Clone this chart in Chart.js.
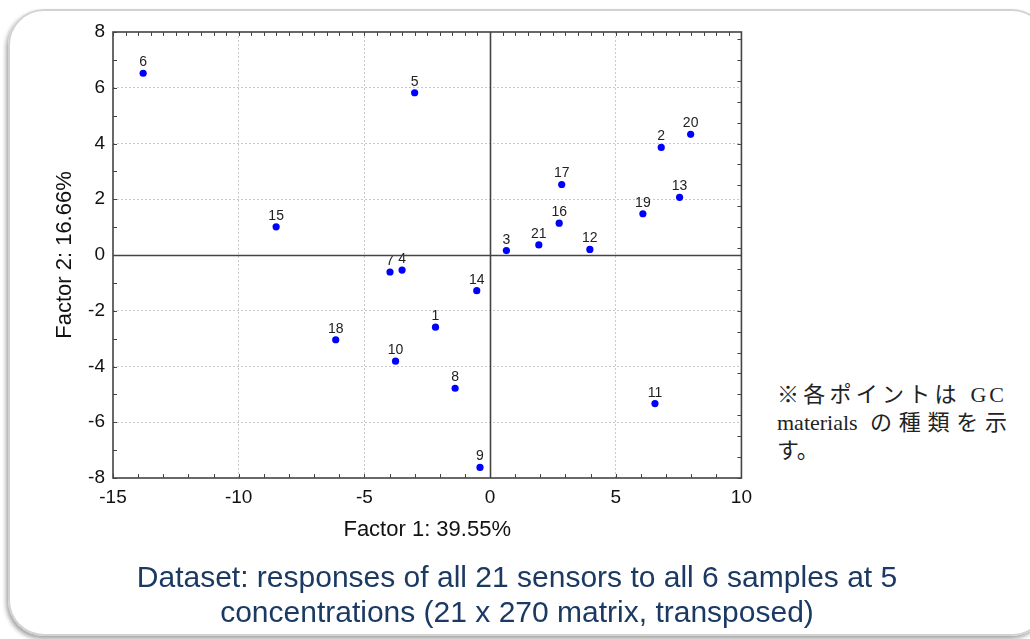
<!DOCTYPE html>
<html>
<head>
<meta charset="utf-8">
<title>Factor plot</title>
<script src="https://cdn.jsdelivr.net/npm/chart.js@4.4.0/dist/chart.umd.min.js"></script>
<style>
  html, body { margin: 0; padding: 0; background: #fff; }
  body { width: 1030px; height: 639px; position: relative; overflow: hidden; font-family: "Liberation Sans", Arial, sans-serif; }
  #frame { position: absolute; left: 8px; top: 9px; width: 1040px; height: 627px; box-sizing: border-box;
           border: 2px solid #d2d2d2; border-radius: 36px; box-shadow: -2px 3px 4px rgba(0,0,0,0.35); }
  #wrap { position: absolute; left: 0; top: 0; width: 760px; height: 560px; }
  #note { position: absolute; left: 777px; top: 381px; width: 230px; color: #222;
          font-family: "Liberation Serif", "Noto Sans CJK JP", serif; font-size: 22px; line-height: 28px; }
  #note .j { text-align: justify; text-align-last: justify; }
  #caption { position: absolute; left: 0; width: 1034px; top: 559px; text-align: center; color: #1b3a63;
             font-size: 30px; line-height: 35px; }
</style>
</head>
<body>
<div id="frame"></div>
<div id="wrap"><canvas id="chart" width="760" height="560"></canvas></div>
<div id="note">
  <div class="j">※各ポイントは <span style="letter-spacing:3px">GC</span></div>
  <div class="j">materials の種類を示</div>
  <div>す。</div>
</div>
<div id="caption">Dataset: responses of all 21 sensors to all 6 samples at 5<br>concentrations (21 x 270 matrix, transposed)</div>
<script>
// sensor numbers and their scores on the first two factors
var sensorIds = ['1','2','3','4','5','6','7','8','9','10','11','12','13','14','15','16','17','18','19','20','21'];
var factor1 = [-2.17, 6.81, 0.65, -3.50, -3.00, -13.80, -3.98, -1.39, -0.40, -3.76, 6.56, 3.97, 7.54, -0.53, -8.51, 2.75, 2.85, -6.14, 6.08, 7.98, 1.94];
var factor2 = [-2.59, 3.86, 0.16, -0.54, 5.82, 6.52, -0.61, -4.78, -7.62, -3.81, -5.33, 0.20, 2.07, -1.28, 1.01, 1.14, 2.53, -3.04, 1.48, 4.33, 0.36];

var xTicks = [-15, -10, -5, 0, 5, 10];
var yTicks = [-8, -6, -4, -2, 0, 2, 4, 6, 8];

var points = [];
for (var i = 0; i < sensorIds.length; i++) {
  points.push({ x: factor1[i], y: factor2[i], id: sensorIds[i] });
}

// frame, zero lines and small inside ticks
var framePlugin = {
  id: 'framePlugin',
  afterDraw: function(chart) {
    var ctx = chart.ctx;
    var a = chart.chartArea;
    var xs = chart.scales.x, ys = chart.scales.y;
    ctx.save();
    ctx.strokeStyle = '#444';
    ctx.lineWidth = 1.6;
    // zero lines
    var x0 = Math.round(xs.getPixelForValue(0)) + 0.5;
    var y0 = Math.round(ys.getPixelForValue(0)) + 0.5;
    ctx.beginPath();
    ctx.moveTo(x0, a.top); ctx.lineTo(x0, a.bottom);
    ctx.moveTo(a.left, y0); ctx.lineTo(a.right, y0);
    ctx.stroke();
    ctx.strokeRect(a.left, a.top, a.right - a.left, a.bottom - a.top);
    // minor ticks
    ctx.lineWidth = 1;
    ctx.beginPath();
    var v, p;
    for (v = -15; v <= 10; v += 1) {
      p = Math.round(xs.getPixelForValue(v)) + 0.5;
      ctx.moveTo(p, a.bottom); ctx.lineTo(p, a.bottom - 4);
    }
    for (v = -15; v <= 10; v += 0.5) {
      p = Math.round(xs.getPixelForValue(v)) + 0.5;
      ctx.moveTo(p, a.top); ctx.lineTo(p, a.top + 4);
    }
    for (v = -8; v <= 8; v += 1) {
      p = Math.round(ys.getPixelForValue(v)) + 0.5;
      ctx.moveTo(a.left, p); ctx.lineTo(a.left + 4, p);
    }
    for (v = -8; v <= 8; v += 0.75) {
      p = Math.round(ys.getPixelForValue(v)) + 0.5;
      ctx.moveTo(a.right, p); ctx.lineTo(a.right - 4, p);
    }
    ctx.stroke();
    ctx.restore();
  }
};

// number above each point
var labelPlugin = {
  id: 'labelPlugin',
  afterDatasetsDraw: function(chart) {
    var ctx = chart.ctx;
    var meta = chart.getDatasetMeta(0);
    ctx.save();
    ctx.font = '14px "Liberation Sans", Arial, sans-serif';
    ctx.fillStyle = '#222';
    ctx.textAlign = 'center';
    ctx.textBaseline = 'alphabetic';
    meta.data.forEach(function(pt, i) {
      ctx.fillText(sensorIds[i], pt.x, pt.y - 7);
    });
    ctx.restore();
  }
};

var ctx = document.getElementById('chart').getContext('2d');
var chart = new Chart(ctx, {
  type: 'scatter',
  data: {
    datasets: [{
      data: points,
      backgroundColor: '#0000ff',
      borderColor: '#0000ff',
      pointRadius: 3.6,
      pointBorderWidth: 0
    }]
  },
  options: {
    responsive: false,
    animation: false,
    devicePixelRatio: 1,
    layout: { padding: { top: 32, right: 18, left: 0, bottom: 0 } },
    plugins: {
      legend: { display: false },
      tooltip: { enabled: false }
    },
    scales: {
      x: {
        type: 'linear',
        min: -15, max: 10,
        afterBuildTicks: function(s) { s.ticks = xTicks.map(function(v) { return { value: v }; }); },
        afterFit: function(s) { s.height = 82; },
        ticks: { color: '#111', padding: 8, font: { size: 19, family: '"Liberation Sans", Arial, sans-serif' } },
        grid: {
          drawTicks: false,
          color: function(c) { return c.tick && (c.tick.value === 0 || c.tick.value === -15 || c.tick.value === 10) ? 'rgba(0,0,0,0)' : '#c9c9c9'; }
        },
        border: { display: false, dash: [2, 2] },
        title: { display: true, text: 'Factor 1: 39.55%', color: '#111', padding: { top: 0, bottom: 17 },
                 font: { size: 22, family: '"Liberation Sans", Arial, sans-serif' } }
      },
      y: {
        type: 'linear',
        min: -8, max: 8,
        afterBuildTicks: function(s) { s.ticks = yTicks.map(function(v) { return { value: v }; }); },
        afterFit: function(s) { s.width = 113; },
        ticks: { color: '#111', padding: 8, font: { size: 19, family: '"Liberation Sans", Arial, sans-serif' } },
        grid: {
          drawTicks: false,
          color: function(c) { return c.tick && (c.tick.value === 0 || c.tick.value === -8 || c.tick.value === 8) ? 'rgba(0,0,0,0)' : '#c9c9c9'; }
        },
        border: { display: false, dash: [2, 2] },
        title: { display: true, text: 'Factor 2: 16.66%', color: '#111', padding: { top: 52, bottom: 0 },
                 font: { size: 22, family: '"Liberation Sans", Arial, sans-serif' } }
      }
    }
  },
  plugins: [framePlugin, labelPlugin]
});
</script>
</body>
</html>
